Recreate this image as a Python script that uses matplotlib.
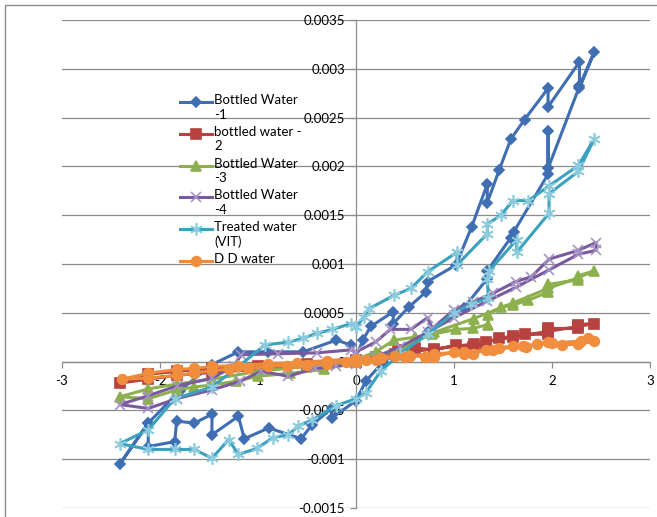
import matplotlib
matplotlib.use('Agg')
import matplotlib.pyplot as plt
from matplotlib.lines import Line2D
from matplotlib.patches import Rectangle
from matplotlib.ticker import FuncFormatter

plt.rcParams['font.family'] = ['Lato', 'DejaVu Sans']

# ---- data (voltage sweep loops) ----
labels = ['Bottled Water\n-1', 'bottled water -\n2', 'Bottled Water\n-3',
          'Bottled Water\n-4', 'Treated water\n(VIT)', 'D D water']

bw1_x = [0.0, 0.07, 0.15, 0.38, 0.38, 0.54, 0.71, 0.73, 1.02, 1.18, 1.34, 1.34, 1.46, 1.58, 1.72,
         1.96, 1.96, 2.28, 2.28, 2.43,
         2.28, 1.96, 1.96, 1.96, 1.61, 1.58, 1.34, 1.34, 1.1, 0.73, 0.45, 0.28, 0.1, 0.0, -0.25,
         -0.25, -0.45, -0.56, -0.89, -1.14, -1.2, -1.47, -1.47, -1.65, -1.83, -1.85, -2.12, -2.12, -2.41,
         -2.12, -1.8, -1.47, -1.2, -0.9, -0.54, -0.2, -0.05, 0.0]
bw1_y = [0.00005, 0.00022, 0.00036, 0.00051, 0.00039, 0.00056, 0.00071, 0.00082, 0.00099, 0.00138,
         0.00182, 0.00163, 0.00196, 0.00228, 0.00248, 0.0028, 0.00261, 0.00307, 0.0028, 0.00317,
         0.00282, 0.00198, 0.00236, 0.00192, 0.00133, 0.00127, 0.00093, 0.00085, 0.00055, 0.0003,
         0.0001, 0.0, -0.0002, -0.0004, -0.00058,
         -0.00048, -0.00065, -0.00079, -0.00068, -0.00079, -0.00056, -0.00075, -0.00054, -0.00063,
         -0.00061, -0.00082, -0.00087, -0.00063, -0.00105,
         -0.00063, -0.0003, -0.00003, 0.0001, 0.0001, 0.0001, 0.00022, 0.00017, 0.00005]

bw2_x = [0.0, 0.2, 0.43, 0.6, 0.8, 1.02, 1.19, 1.33, 1.33, 1.46, 1.6, 1.72, 1.96, 1.96, 2.27, 2.27, 2.43,
         2.27, 1.96, 1.6, 1.2, 0.8, 0.4, 0.0,
         -0.5, -1.0, -1.47, -1.83, -2.12, -2.41, -2.12, -1.83, -1.47, -1.0, -0.5, 0.0]
bw2_y = [0.00002, 0.00005, 0.00012, 0.00014, 0.00012, 0.00017, 0.00015, 0.00017, 0.0002, 0.00024,
         0.00026, 0.00028, 0.00028, 0.00034, 0.00034, 0.00038, 0.00039,
         0.00036, 0.00031, 0.00025, 0.00018, 0.00013, 0.00008, 0.0,
         -0.00004, -0.00008, -0.00011, -0.00014, -0.00018, -0.00022, -0.00013, -0.0001, -0.00007,
         -0.00005, -0.00002, 0.0]

bw3_x = [0.0, 0.2, 0.39, 0.6, 0.78, 1.02, 1.19, 1.35, 1.35, 1.48, 1.6, 1.76, 1.96, 1.96, 2.27, 2.27, 2.43,
         2.27, 1.96, 1.6, 1.2, 0.8, 0.5, 0.2, 0.0,
         -0.33, -0.67, -1.0, -1.22, -1.47, -1.65, -1.83, -2.12, -2.41,
         -2.12, -1.83, -1.47, -1.0, -0.5, 0.0]
bw3_y = [0.00002, 0.0001, 0.00022, 0.00025, 0.00028, 0.00033, 0.00034, 0.00038, 0.00048, 0.00056,
         0.00058, 0.00063, 0.00071, 0.00079, 0.00084, 0.00088, 0.00093,
         0.00086, 0.00075, 0.0006, 0.00044, 0.0003, 0.00015, 0.00005, 0.0,
         -0.00008, -0.00012, -0.00015, -0.0002, -0.00024, -0.00026, -0.00029, -0.00038, -0.00036,
         -0.00028, -0.00023, -0.00018, -0.0001, -0.00005, 0.00002]

bw4_x = [0.0, 0.2, 0.35, 0.56, 0.73, 0.78, 1.0, 1.19, 1.4, 1.63, 1.79, 1.97, 2.27, 2.45,
         2.45, 2.27, 1.97, 1.63, 1.34, 1.0, 0.73, 0.45, 0.2, 0.0,
         -0.2, -0.42, -0.69, -0.97, -1.18, -1.47, -1.83, -2.12, -2.41,
         -2.12, -1.83, -1.47, -1.25, -1.17, -0.8, -0.4, -0.05, 0.0]
bw4_y = [0.0001, 0.0002, 0.00033, 0.00033, 0.00045, 0.00034, 0.00053, 0.00061, 0.0007, 0.00082,
         0.00087, 0.00105, 0.00114, 0.00122,
         0.00114, 0.0011, 0.00094, 0.00076, 0.00062, 0.00045, 0.0003, 0.00015, 0.00005, -0.00002,
         -0.00005, -0.00007, -0.00015, -0.0001, -0.0002, -0.00029, -0.00038, -0.00048, -0.00044,
         -0.00035, -0.00025, -0.00017, -0.00005, 0.00007, 0.00008, 0.00009, 0.00012, 0.0001]

vit_x = [0.0, 0.08, 0.13, 0.39, 0.56, 0.73, 1.03, 1.03, 1.34, 1.34, 1.48, 1.6, 1.76, 1.97, 2.27, 2.43,
         2.27, 1.97, 1.97, 1.64, 1.64, 1.36, 1.34, 1.35, 1.17, 1.0, 0.73, 0.45, 0.25, 0.1, 0.0,
         -0.2, -0.45, -0.59, -0.69, -0.85, -1.01, -1.2, -1.3, -1.47, -1.65, -1.85, -2.12, -2.41,
         -2.12, -1.85, -1.47, -1.2, -0.93, -0.69, -0.54, -0.4, -0.24, -0.05, 0.0]
vit_y = [0.00035, 0.00046, 0.00054, 0.00068, 0.00075, 0.00092, 0.00112, 0.00099, 0.00131, 0.00141,
         0.0015, 0.00165, 0.00165, 0.0018, 0.00201, 0.00228,
         0.00195, 0.00172, 0.00152, 0.00112, 0.00125, 0.00093, 0.00085, 0.00065, 0.00059, 0.0005,
         0.00028, 0.00008, -0.0001, -0.00032, -0.00038,
         -0.00045, -0.0006, -0.00066, -0.00075, -0.00078, -0.00089, -0.00095, -0.0008, -0.00099,
         -0.0009, -0.0009, -0.0009, -0.00084,
         -0.0007, -0.00038, -0.00026, -0.00005, 0.00017, 0.0002, 0.00024, 0.00029, 0.00033, 0.00039,
         0.00035]

dd_x = [0.0, 0.1, 0.25, 0.4, 0.55, 0.7, 0.8, 1.0, 1.1, 1.19, 1.33, 1.46, 1.6, 1.73, 1.85, 1.96, 2.1,
        2.27, 2.37, 2.43,
        2.3, 2.0, 1.7, 1.4, 1.1, 0.8, 0.5, 0.2, 0.0,
        -0.1, -0.3, -0.5, -0.7, -0.9, -1.1, -1.3, -1.47, -1.65, -1.83, -2.12, -2.39,
        -2.12, -1.83, -1.65, -1.47, -1.2, -0.9, -0.6, -0.3, 0.0]
dd_y = [0.0, 0.00002, 0.00004, 0.00006, 0.00006, 0.00005, 0.00005, 0.0001, 0.00008, 0.00008, 0.00012,
        0.00014, 0.00016, 0.00015, 0.00018, 0.0002, 0.00017, 0.00018, 0.00024, 0.00021,
        0.00021, 0.00019, 0.00016, 0.00012, 0.0001, 0.00008, 0.00005, 0.00002, 0.0,
        0.0, -0.00002, -0.00003, -0.00004, -0.00005, -0.00007, -0.00008, -0.00009, -0.00012,
        -0.00014, -0.00017, -0.00018,
        -0.00012, -0.00008, -0.00007, -0.00005, -0.00004, -0.00002, -0.00001, 0.00001, 0.00003]

xs = [bw1_x, bw2_x, bw3_x, bw4_x, vit_x, dd_x]
ys = [bw1_y, bw2_y, bw3_y, bw4_y, vit_y, dd_y]

# styles: line colour, marker, marker size, marker face, marker edge
styles = [
    ('#3F6EB3', 'D', 5, '#3F6EB3', '#3F6EB3'),
    ('#B8423F', 's', 6.5, '#B8423F', '#B8423F'),
    ('#8DB04E', '^', 7, '#8DB04E', '#8DB04E'),
    ('#7A5A9E', 'x', 7, 'none', '#A893C6'),
    ('#3AA2BF', (6, 2, 0), 9, 'none', '#8CCBDD'),
    ('#EE8A3C', 'o', 7, '#F08E3E', '#F08E3E'),
]

W, H = 657, 517
fig = plt.figure(figsize=(W / 100, H / 100), dpi=100)
ax = fig.add_axes([62 / W, 1 - 508 / H, 588 / W, 488 / H])

for x, y, (c, m, ms, mfc, mec) in zip(xs, ys, styles):
    ax.plot(x, y, color=c, lw=2.2, marker=m, ms=ms, mfc=mfc, mec=mec, mew=1.2, zorder=3)

ax.set_xlim(-3, 3)
ax.set_ylim(-0.0015, 0.0035)
ax.set_xticks([-3, -2, -1, 0, 1, 2, 3])
ax.set_yticks([-0.0015, -0.001, -0.0005, 0, 0.0005, 0.001, 0.0015, 0.002, 0.0025, 0.003, 0.0035])
ax.yaxis.set_major_formatter(FuncFormatter(lambda v, p: '%g' % round(v, 6)))
ax.xaxis.set_major_formatter(FuncFormatter(lambda v, p: '%g' % v))

ax.grid(axis='y', color='#8C8C8C', lw=0.9, zorder=0)
ax.grid(axis='x', visible=False)
for s in ['top', 'right']:
    ax.spines[s].set_visible(False)
ax.spines['left'].set_position(('data', 0))
ax.spines['bottom'].set_position(('data', 0))
for s in ['left', 'bottom']:
    ax.spines[s].set_color('#8C8C8C')
    ax.spines[s].set_linewidth(0.9)
ax.tick_params(axis='both', colors='#8C8C8C', labelcolor='black', labelsize=9.5, length=4, width=0.9)
ax.tick_params(axis='x', pad=6)
ax.tick_params(axis='y', pad=4)

# outer chart frame (cut off at right and bottom)
fig.add_artist(Rectangle((5 / W, -0.1), 1.2, 1 - 5 / H + 0.1, transform=fig.transFigure,
                         fill=False, ec='#8C8C8C', lw=1.0))

# legend drawn by hand so the marker sits on the first text line
for i, (lab, (c, m, ms, mfc, mec)) in enumerate(zip(labels, styles)):
    yp = 102 + i * 31.8
    yf = 1 - yp / H
    fig.add_artist(Line2D([180 / W, 212 / W], [yf, yf], color=c, lw=2.2, transform=fig.transFigure))
    fig.add_artist(Line2D([196 / W], [yf], marker=m, ms=ms, mfc=mfc, mec=mec, mew=1.2,
                          transform=fig.transFigure))
    fig.text(214 / W, 1 - (yp - 8) / H, lab, fontsize=9.5, va='top', ha='left', linespacing=1.25)

fig.savefig('out.png', dpi=100)
